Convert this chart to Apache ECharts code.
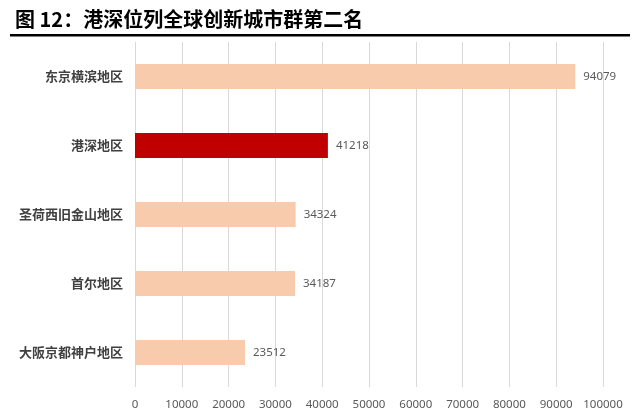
<!DOCTYPE html>
<html><head><meta charset="utf-8">
<script src="https://cdn.jsdelivr.net/npm/echarts@6/dist/echarts.min.js"></script>
<style>html,body{margin:0;padding:0;background:#fff}#c{width:640px;height:416px}</style>
</head><body><div id="c"></div>
<script>
const categories = ['东京横滨地区','港深地区','圣荷西旧金山地区','首尔地区','大阪京都神户地区'];
const values = [94079, 41218, 34324, 34187, 23512];
const highlight = '港深地区';
const titleText = '图 12：港深位列全球创新城市群第二名';

const chart = echarts.init(document.getElementById('c'));
chart.setOption({
  animation: false,
  title: {text: titleText, left: 10, top: 4,
    textStyle: {fontFamily: 'Noto Sans CJK SC', fontWeight: 'bold', fontSize: 20, color: '#000'}},
  graphic: [{type: 'rect', shape: {x: 10, y: 34, width: 620, height: 2.5}, style: {fill: '#000'}}],
  grid: {left: 135, right: 37, top: 42, bottom: 29, containLabel: false},
  xAxis: {type: 'value', min: 0, max: 100000, interval: 10000,
    axisLine: {show: false}, axisTick: {show: false},
    splitLine: {show: true, lineStyle: {color: '#d9d9d9', width: 1}},
    axisLabel: {color: '#595959', fontSize: 11.5, fontFamily: 'Noto Sans', margin: 12, formatter: v => String(v)}},
  yAxis: {type: 'category', inverse: true, data: categories,
    axisLine: {show: false}, axisTick: {show: false},
    axisLabel: {color: '#404040', fontSize: 13, fontWeight: 'bold', fontFamily: 'Noto Sans CJK SC', margin: 12}},
  series: [{type: 'bar', barWidth: '36%',
    data: values.map((v, i) => ({value: v, itemStyle: {color: categories[i] === highlight ? '#C00000' : '#F8CBAD'}})),
    label: {show: true, position: 'right', distance: 8, color: '#595959', fontSize: 11.5, fontFamily: 'Noto Sans'}}]
});
</script></body></html>
